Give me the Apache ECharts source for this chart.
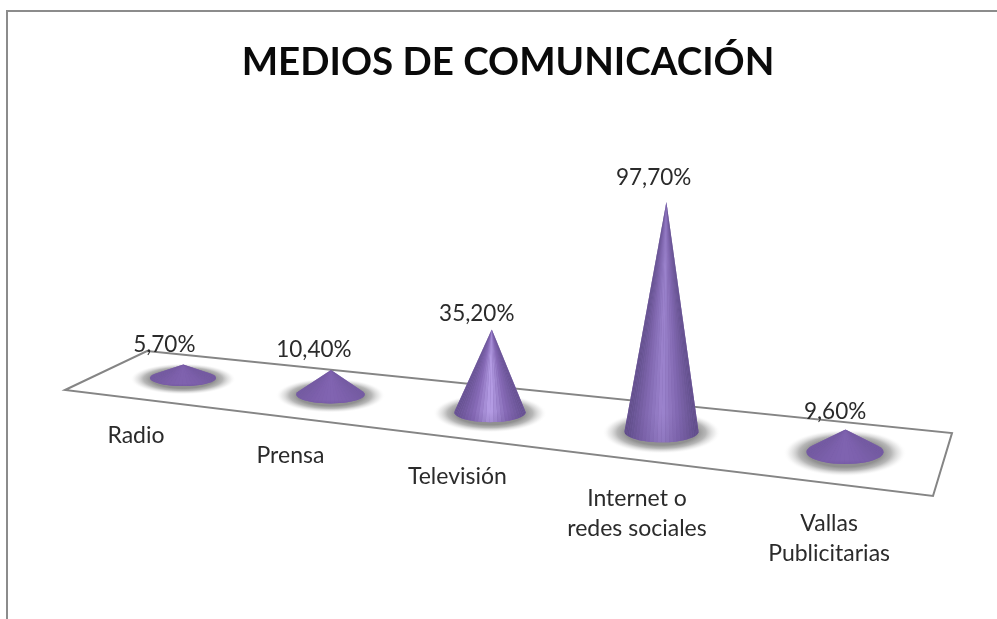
<!DOCTYPE html>
<html>
<head>
<meta charset="utf-8">
<style>html,body{margin:0;padding:0;background:#fff}#c{width:997px;height:619px}</style>
<script src="https://cdn.jsdelivr.net/npm/echarts@6/dist/echarts.min.js"></script>
</head>
<body>
<div id="c"></div>
<script>
var chartTitle = 'MEDIOS DE COMUNICACIÓN';
var categories = ['Radio', 'Prensa', 'Televisión', 'Internet o\nredes sociales', 'Vallas\nPublicitarias'];
var percentages = [5.7, 10.4, 35.2, 97.7, 9.6];
var valueLabels = ['5,70%', '10,40%', '35,20%', '97,70%', '9,60%'];

var highlightColors = ['#8062af', '#8265b2', '#b8a1e8', '#9d85cf', '#8063b1'];
var edgeColors = ['#735a9f', '#745ba1', '#64508e', '#5f4d88', '#735aa0'];
var midColors = ['#7c5faa', '#7d60ac', '#8569b5', '#8067af', '#7c60ac'];
var labelLift = [20, 20, 16, 24, 18];

var chart = echarts.init(document.getElementById('c'));
var FONT = 'Lato, "Open Sans", sans-serif';

function renderCone(params, api) {
  var i = params.dataIndex;
  var value = api.value(1);
  var flat = api.coord([api.value(0), 0]);
  var size = api.size([0, value]);
  // perspective of the floor plane: plot position -> floor position
  var t = (flat[0] - 183) / 662;
  var cx = flat[0] - 96 * t * (1 - t);
  var run = cx - 183;
  var cy = flat[1] + run * 0.1118;
  var rx = 33 + run * 0.0083;
  var ry = 8 + run * 0.006;
  var tx = cx + value * 0.05;
  var ty = cy - size[1];
  var a = (tx - cx) / rx, b = (ty - cy) / ry;
  var d = Math.sqrt(a * a + b * b);
  var phi = Math.atan2(b, a), alpha = Math.acos(1 / d);
  var from = phi + alpha, to = phi - alpha + 2 * Math.PI;
  var pts = [[tx, ty]];
  var N = 30;
  for (var k = 0; k <= N; k++) {
    var th = from + (to - from) * k / N;
    pts.push([cx + rx * Math.cos(th), cy + ry * Math.sin(th)]);
  }
  var ramp = [edgeColors[i], midColors[i], highlightColors[i], midColors[i], edgeColors[i]];
  var shadowR = rx * 1.6;
  var shadowScale = (ry * 1.95) / shadowR;
  var children = [{
    type: 'circle',
    x: cx, y: cy + 1, scaleY: shadowScale,
    shape: { cx: 0, cy: 0, r: shadowR },
    style: {
      fill: new echarts.graphic.RadialGradient(0.5, 0.5, 0.5, [
        { offset: 0, color: '#909090' },
        { offset: 0.6, color: '#909090' },
        { offset: 0.75, color: 'rgba(165,165,165,0.8)' },
        { offset: 0.9, color: 'rgba(215,215,215,0.4)' },
        { offset: 1, color: 'rgba(255,255,255,0)' }
      ])
    }
  }, {
    // backing layer closes the hairline seams between the fan slices
    type: 'polygon',
    shape: { points: pts },
    style: { fill: midColors[i] }
  }];
  // shading fans out from the apex, so the sides stay dark right up to the tip
  for (var s = N - 1; s >= 0; s--) {
    var p = pts[s + 1], q = pts[s + 2];
    var u = ((p[0] + q[0]) / 2 - (cx - rx)) / (2 * rx);
    u = Math.max(0, Math.min(1, u));
    children.push({
      type: 'polygon',
      shape: { points: [pts[0], p, q] },
      style: { fill: echarts.color.lerp(u, ramp) }
    });
  }
  children.push({
    type: 'polygon',
    shape: { points: pts },
    style: {
      fill: new echarts.graphic.LinearGradient(0, 0, 0, 1, [
        { offset: 0, color: 'rgba(70,50,110,0)' },
        { offset: 0.88, color: 'rgba(70,50,110,0)' },
        { offset: 1, color: 'rgba(70,50,110,0.14)' }
      ])
    }
  });
  children.push({
    type: 'text',
    style: {
      x: tx - 18 + run * 0.013 - 1,
      y: ty - labelLift[i],
      text: valueLabels[i],
      fill: '#2b2b2b',
      font: '22.5px ' + FONT,
      align: 'center',
      verticalAlign: 'middle'
    }
  });
  children.push({
    type: 'text',
    style: {
      x: cx - 47 + run * 0.047,
      y: cy + 43 + run * 0.02,
      text: categories[i],
      fill: '#2b2b2b',
      font: '23px ' + FONT,
      lineHeight: 30,
      align: 'center',
      verticalAlign: 'top'
    }
  });
  return { type: 'group', children: children };
}

chart.setOption({
  animation: false,
  backgroundColor: '#ffffff',
  title: {
    text: chartTitle,
    left: 503, top: 38,
    textAlign: 'center',
    textStyle: { fontFamily: FONT, fontWeight: 'bold', fontSize: 38.5, color: '#0a0a0a' }
  },
  grid: { left: 100.25, width: 827.5, top: 143, height: 235 },
  xAxis: { type: 'category', data: categories, show: false },
  yAxis: { type: 'value', min: 0, max: 100, show: false },
  graphic: [
    {
      type: 'polyline', z: 0,
      shape: { points: [[7, 619], [7, 11], [997, 11]] },
      style: { stroke: '#8c8c8c', lineWidth: 2, fill: null }
    },
    {
      type: 'polygon', z: 0,
      shape: { points: [[65, 390], [147, 351], [952, 433], [933, 496]] },
      style: { stroke: '#858585', lineWidth: 2, fill: '#ffffff' }
    }
  ],
  series: [{
    type: 'custom',
    z: 5,
    clip: false,
    renderItem: renderCone,
    encode: { x: 0, y: 1 },
    data: percentages.map(function (v, i) { return [i, v]; })
  }]
});
</script>
</body>
</html>
